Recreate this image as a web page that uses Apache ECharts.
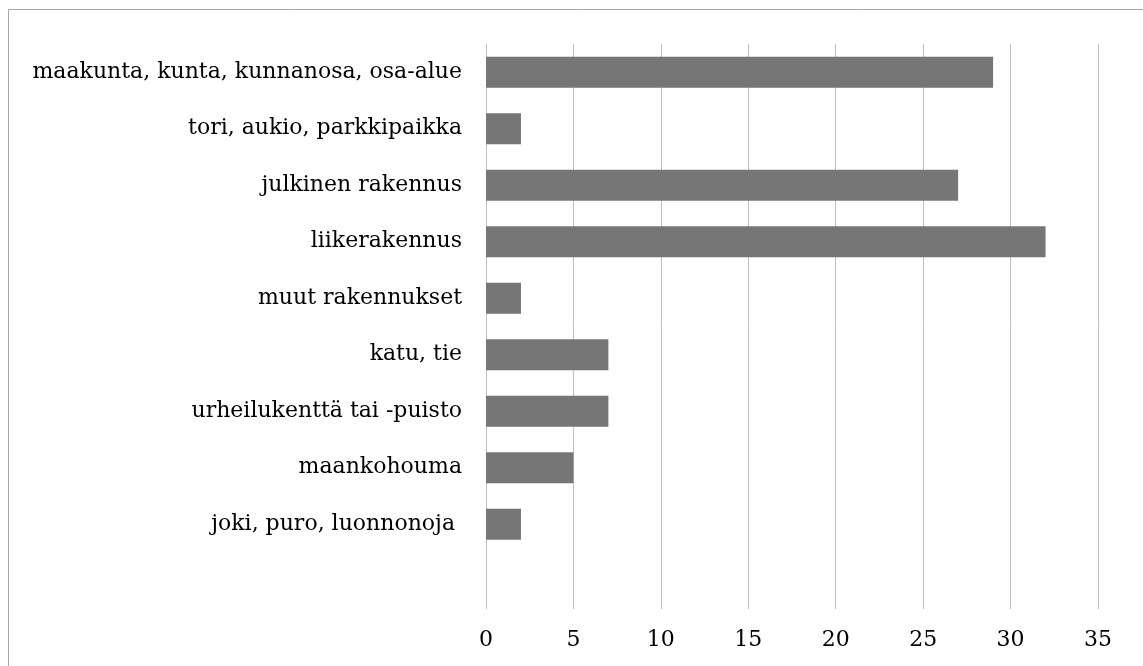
<!DOCTYPE html>
<html>
<head>
<meta charset="utf-8">
<script src="https://cdn.jsdelivr.net/npm/echarts@6/dist/echarts.min.js"></script>
<style>
  html, body { margin: 0; padding: 0; background: #fff; }
  #main { width: 1143px; height: 666px; }
</style>
</head>
<body>
<div id="main"></div>
<script>
// categories top to bottom, last slot is empty in the original
var categories = [
  'maakunta, kunta, kunnanosa, osa-alue',
  'tori, aukio, parkkipaikka',
  'julkinen rakennus',
  'liikerakennus',
  'muut rakennukset',
  'katu, tie',
  'urheilukenttä tai -puisto',
  'maankohouma',
  'joki, puro, luonnonoja ',
  ''
];
var counts = [29, 2, 27, 32, 2, 7, 7, 5, 2, null];
var xTicks = [0, 5, 10, 15, 20, 25, 30, 35];

var myChart = echarts.init(document.getElementById('main'));
var font = 'DejaVu Serif';

var option = {
  animation: false,
  backgroundColor: '#fff',
  graphic: [{
    type: 'rect',
    shape: { x: 8.5, y: 9.5, width: 1160, height: 700 },
    style: { fill: null, stroke: '#a6a6a6', lineWidth: 1 }
  }],
  grid: { left: 486, right: 45, top: 44, bottom: 57 },
  xAxis: {
    type: 'value',
    min: xTicks[0],
    max: xTicks[xTicks.length - 1],
    interval: 5,
    axisLine: { show: false },
    axisTick: { show: false },
    splitLine: { show: true, lineStyle: { color: '#bfbfbf', width: 1 } },
    axisLabel: { color: '#000', fontFamily: font, fontSize: 22, margin: 20 }
  },
  yAxis: {
    type: 'category',
    data: categories,
    inverse: true,
    axisLine: { show: false },
    axisTick: { show: false },
    axisLabel: { color: '#000', fontFamily: font, fontSize: 22, margin: 24 }
  },
  series: [{
    type: 'bar',
    data: counts,
    barWidth: '55%',
    itemStyle: { color: '#767676' }
  }]
};
myChart.setOption(option);
</script>
</body>
</html>
